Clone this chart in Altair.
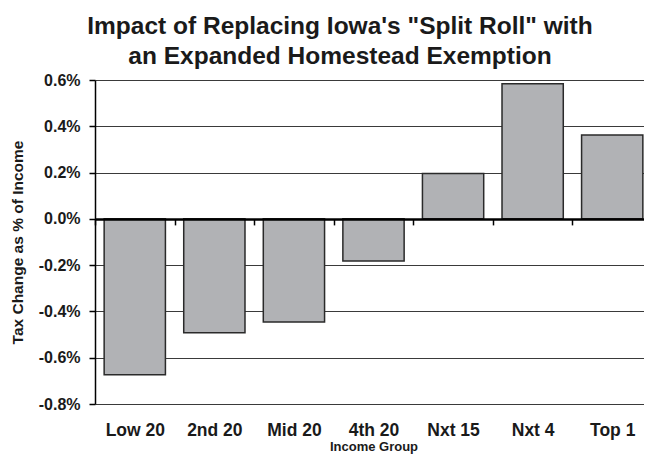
import altair as alt
import pandas as pd

categories = ["Low 20", "2nd 20", "Mid 20", "4th 20", "Nxt 15", "Nxt 4", "Top 1"]
values = [-0.674, -0.492, -0.446, -0.182, 0.196, 0.584, 0.362]
y_ticks = [-0.8, -0.6, -0.4, -0.2, 0.0, 0.2, 0.4, 0.6]

df = pd.DataFrame({"group": categories, "value": values})

FONT = "Liberation Sans"

chart = alt.Chart(df).mark_bar(
    width=alt.RelativeBandSize(0.77),
    fill="#b1b2b5",
    stroke="#2a2a2a",
    strokeWidth=1.5,
).encode(
    x=alt.X(
        "group:N",
        sort=categories,
        scale=alt.Scale(range=[0, 557], paddingInner=0, paddingOuter=0),
        axis=alt.Axis(
            title="Income Group",
            orient="bottom",
            offset=-185.1,
            domainColor="#000000",
            domainWidth=2.5,
            tickColor="#000000",
            tickWidth=1.5,
            tickSize=6,
            tickBand="extent",
            labelAngle=0,
            labelFont=FONT,
            labelFontSize=17.5,
            labelFontWeight="bold",
            labelColor="#1a1a1a",
            labelBaseline="alphabetic",
            labelPadding=210.1,
            titleFont=FONT,
            titleFontSize=13,
            titleFontWeight="bold",
            titleColor="#1a1a1a",
            titleBaseline="alphabetic",
            titleY=231.6,
            zindex=1,
            grid=False,
        ),
    ),
    y=alt.Y(
        "value:Q",
        scale=alt.Scale(domain=[-0.8, 0.6], nice=False, zero=False),
        axis=alt.Axis(
            title="Tax Change as % of Income",
            values=y_ticks,
            labelExpr="replace(format(datum.value, '.1f'), '\u2212', '-') + '%'",
            domainColor="#000000",
            domainWidth=1.5,
            tickColor="#000000",
            tickWidth=1.5,
            tickSize=6,
            labelFont=FONT,
            labelFontSize=16,
            labelFontWeight="bold",
            labelColor="#1a1a1a",
            labelPadding=9,
            titleFont=FONT,
            titleFontSize=15.5,
            titleFontWeight="bold",
            titleColor="#1a1a1a",
            titleBaseline="alphabetic",
            titleAngle=270,
            titleX=-73,
            titleY=162,
            grid=True,
            gridColor="#3a3a3a",
            gridWidth=1,
        ),
    ),
).properties(
    width=549,
    height=324,
    padding={"left": 87, "top": 72, "right": 0, "bottom": 50},
    autosize=alt.AutoSizeParams(type="none"),
    title=alt.TitleParams(
        text=["Impact of Replacing Iowa's \"Split Roll\" with",
              "an Expanded Homestead Exemption"],
        font=FONT,
        fontSize=24.5,
        fontWeight="bold",
        color="#1a1a1a",
        anchor="middle",
        frame="group",
        dx=-29.5,
        dy=-3,
        lineHeight=30,
        offset=0,
    ),
).configure_view(strokeWidth=0).configure(background="white")

chart.save("out.html", embed_options={"renderer": "svg", "actions": False})
